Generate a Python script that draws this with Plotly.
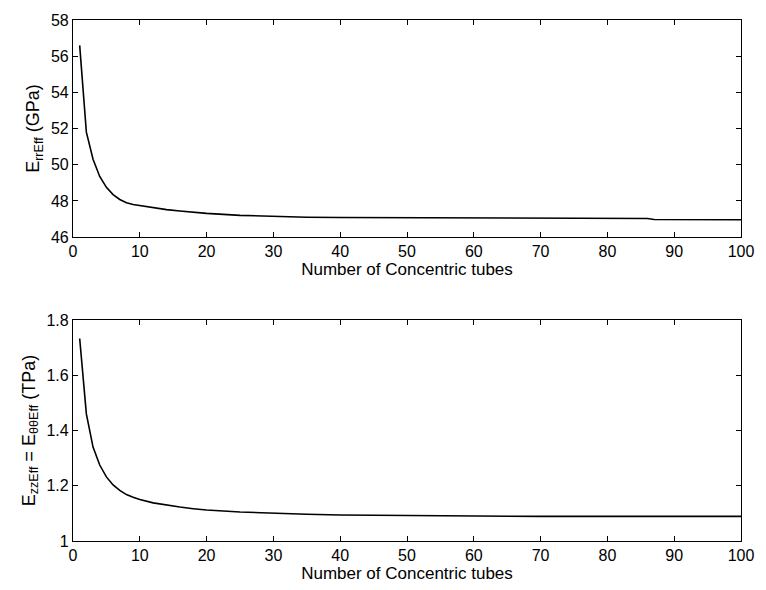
import plotly.graph_objects as go

# Number of concentric tubes (sampled densely where the curves bend)
tubes = [1, 2, 3, 4, 5, 6, 7, 8, 9, 10, 12, 14, 16, 18, 20, 25, 30, 35, 40,
         50, 60, 70, 80, 86, 87, 90, 100]

# Effective radial modulus E_rrEff (GPa)
e_rr = [56.6, 51.8, 50.3, 49.35, 48.75, 48.35, 48.08, 47.9, 47.8, 47.74,
        47.62, 47.52, 47.44, 47.37, 47.31, 47.2, 47.13, 47.1, 47.08,
        47.06, 47.05, 47.04, 47.03, 47.03, 46.97, 46.96, 46.96]

# Effective axial / hoop modulus E_zzEff = E_θθEff (TPa)
e_zz = [1.733, 1.46, 1.34, 1.275, 1.232, 1.203, 1.183, 1.168, 1.158, 1.15,
        1.138, 1.13, 1.123, 1.117, 1.112, 1.105, 1.1, 1.097, 1.094,
        1.092, 1.09, 1.089, 1.089, 1.089, 1.089, 1.089, 1.089]

x_ticks = list(range(0, 101, 10))
y1_ticks = [46, 48, 50, 52, 54, 56, 58]
y2_ticks = [1, 1.2, 1.4, 1.6, 1.8]
y2_labels = ["1", "1.2", "1.4", "1.6", "1.8"]

FONT = "Liberation Sans, Arial, sans-serif"

fig = go.Figure()
fig.add_trace(go.Scatter(x=tubes, y=e_rr, mode="lines",
                         line=dict(color="black", width=1.6),
                         xaxis="x", yaxis="y", showlegend=False))
fig.add_trace(go.Scatter(x=tubes, y=e_zz, mode="lines",
                         line=dict(color="black", width=1.6),
                         xaxis="x2", yaxis="y2", showlegend=False))

axis_common = dict(showgrid=False, zeroline=False, showline=True, mirror="ticks",
                   linecolor="black", linewidth=1.2, ticks="inside", ticklen=5,
                   tickcolor="black", tickfont=dict(family=FONT, size=16, color="black"))

xtitle = dict(text="Number of Concentric tubes",
              font=dict(family=FONT, size=17, color="black"), standoff=2)

fig.update_layout(
    width=766, height=590,
    margin=dict(l=73, r=20, t=13, b=48),
    paper_bgcolor="white", plot_bgcolor="white",
    font=dict(family=FONT, color="black"),
    xaxis=dict(domain=[0, 1], anchor="y", range=[0, 100], tickvals=x_ticks,
               title=xtitle, **axis_common),
    yaxis=dict(domain=[0.5833, 1], anchor="x", range=[46, 58], tickvals=y1_ticks,
               title=dict(text="E<sub>rrEff</sub> (GPa)",
                          font=dict(family=FONT, size=18, color="black"), standoff=6),
               **axis_common),
    xaxis2=dict(domain=[0, 1], anchor="y2", range=[0, 100], tickvals=x_ticks,
                title=xtitle, **axis_common),
    yaxis2=dict(domain=[0, 0.4242], anchor="x2", range=[1, 1.8], tickvals=y2_ticks,
                ticktext=y2_labels,
                title=dict(text="E<sub>zzEff</sub> = E<sub>θθEff</sub> (TPa)",
                           font=dict(family=FONT, size=18, color="black"), standoff=6),
                **axis_common),
)

fig.write_html("out.html")
